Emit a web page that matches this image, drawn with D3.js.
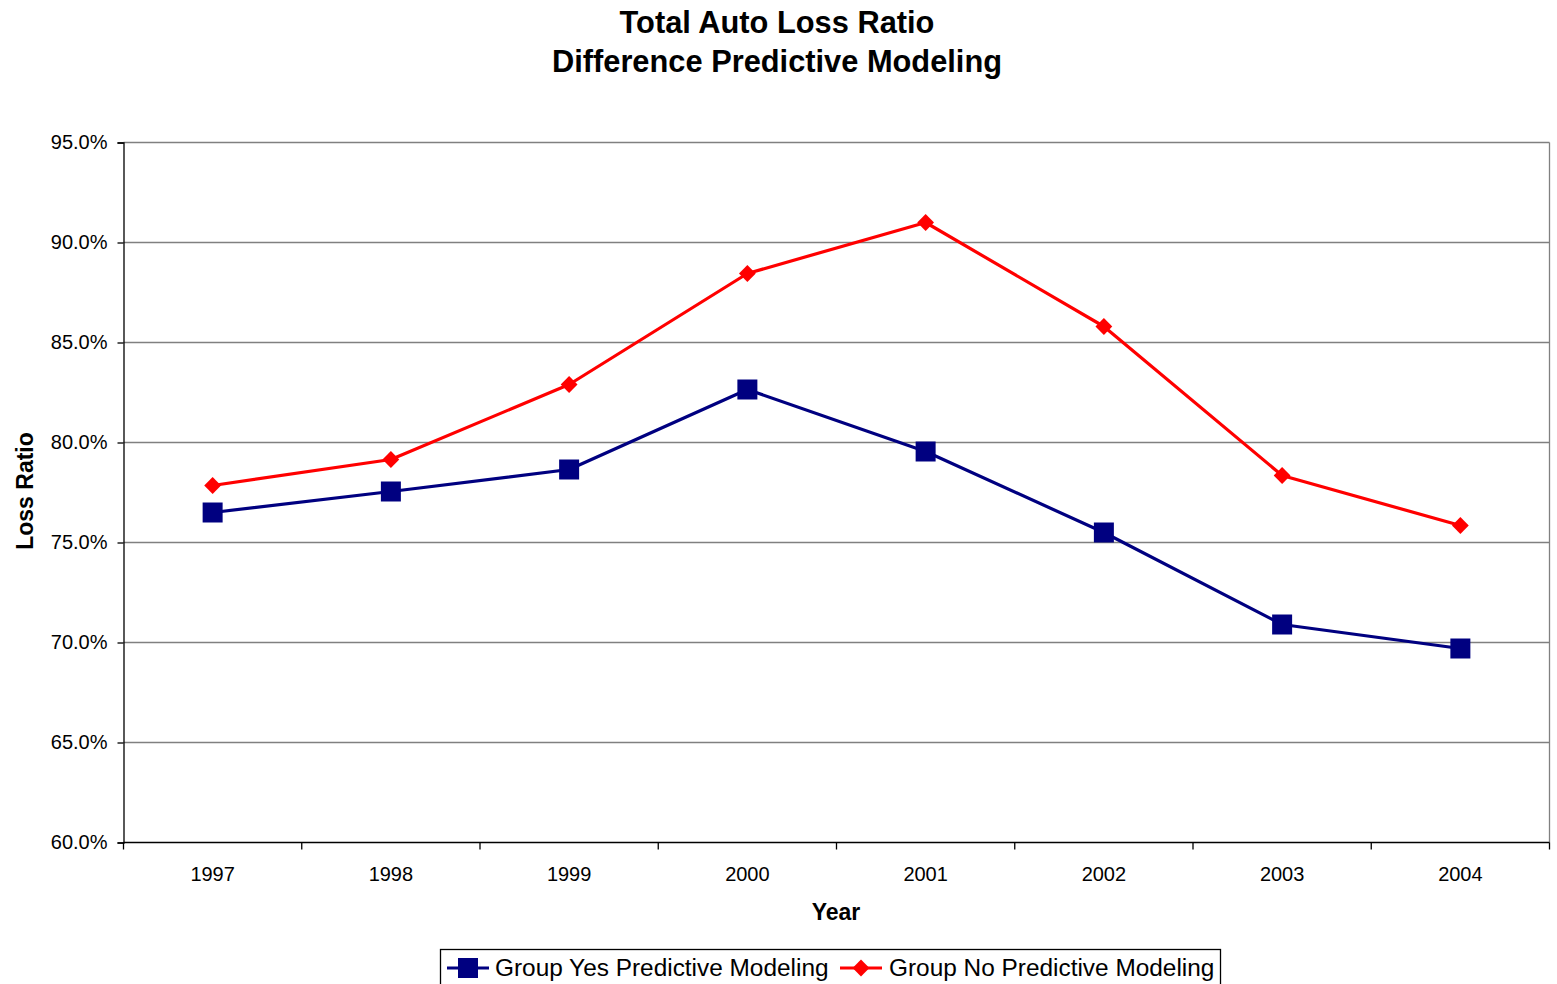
<!DOCTYPE html>
<html>
<head>
<meta charset="utf-8">
<script src="https://cdn.jsdelivr.net/npm/d3@7"></script>
<style>
  html, body { margin: 0; padding: 0; background: #fff; }
  svg { display: block; font-family: "Liberation Sans", Arial, sans-serif; }
</style>
</head>
<body>
<svg id="chart" width="1557" height="984"></svg>
<script>
// Loss ratio (%) by accident year
const years = ["1997", "1998", "1999", "2000", "2001", "2002", "2003", "2004"];
const yesModeling = [76.5, 77.55, 78.65, 82.65, 79.55, 75.5, 70.9, 69.7];
const noModeling = [77.85, 79.15, 82.9, 88.45, 91.0, 85.8, 78.35, 75.85];
const yTicks = [60, 65, 70, 75, 80, 85, 90, 95];
const seriesNames = ["Group Yes Predictive Modeling", "Group No Predictive Modeling"];
const seriesColors = ["#000080", "#ff0000"];

const svg = d3.select("#chart");
const plot = { left: 123.5, right: 1549.5, top: 142.5, bottom: 842.5 };

const x = d3.scaleBand().domain(years).range([plot.left, plot.right]);
const y = d3.scaleLinear().domain([60, 95]).range([plot.bottom, plot.top]);

// Title
const title = svg.append("text")
  .attr("x", 777).attr("text-anchor", "middle")
  .attr("font-weight", "bold").attr("font-size", 30.8).attr("fill", "#000");
title.append("tspan").attr("x", 777).attr("y", 33).text("Total Auto Loss Ratio");
title.append("tspan").attr("x", 777).attr("y", 72).text("Difference Predictive Modeling");

// Horizontal gridlines
svg.append("g").selectAll("line")
  .data(yTicks.filter(d => d > 60))
  .join("line")
  .attr("x1", plot.left).attr("x2", plot.right)
  .attr("y1", d => y(d)).attr("y2", d => y(d))
  .attr("stroke", "#808080").attr("stroke-width", 1.3);

// Right border of plot area
svg.append("line")
  .attr("x1", plot.right).attr("x2", plot.right)
  .attr("y1", plot.top).attr("y2", plot.bottom)
  .attr("stroke", "#808080").attr("stroke-width", 1.3);

// Y axis
const yAxis = svg.append("g")
  .attr("transform", `translate(${plot.left},0)`)
  .call(d3.axisLeft(y).tickValues(yTicks).tickSize(6).tickPadding(10)
    .tickFormat(d => d3.format(".1f")(d) + "%"));
yAxis.select(".domain").attr("stroke", "#000").attr("stroke-width", 1.3);
yAxis.selectAll(".tick line").attr("stroke", "#000").attr("stroke-width", 1.3);
yAxis.selectAll(".tick text").attr("font-size", 20).attr("fill", "#000")
  .attr("font-family", "Liberation Sans, Arial, sans-serif");

// X axis: ticks at category boundaries
const xAxisG = svg.append("g");
xAxisG.append("line")
  .attr("x1", plot.left).attr("x2", plot.right)
  .attr("y1", plot.bottom).attr("y2", plot.bottom)
  .attr("stroke", "#000").attr("stroke-width", 1.3);
const boundaries = years.map(d => x(d)).concat([x(years[years.length - 1]) + x.bandwidth()]);
xAxisG.selectAll("line.tk").data(boundaries).join("line").attr("class", "tk")
  .attr("x1", d => d).attr("x2", d => d)
  .attr("y1", plot.bottom).attr("y2", plot.bottom + 7)
  .attr("stroke", "#000").attr("stroke-width", 1.3);
xAxisG.selectAll("text").data(years).join("text")
  .attr("x", d => x(d) + x.bandwidth() / 2)
  .attr("y", 881)
  .attr("text-anchor", "middle")
  .attr("font-size", 20).attr("fill", "#000")
  .text(d => d);

// Axis titles
svg.append("text")
  .attr("x", 836).attr("y", 920).attr("text-anchor", "middle")
  .attr("font-weight", "bold").attr("font-size", 23).text("Year");
svg.append("text")
  .attr("transform", "translate(33,491) rotate(-90)")
  .attr("text-anchor", "middle")
  .attr("font-weight", "bold").attr("font-size", 23).text("Loss Ratio");

const cx = d => x(d) + x.bandwidth() / 2;
const line = d3.line().x(d => cx(d.year)).y(d => y(d.value));

const seriesData = [yesModeling, noModeling].map(vals =>
  years.map((yr, i) => ({ year: yr, value: vals[i] })));

// Lines
svg.append("g").selectAll("path")
  .data(seriesData)
  .join("path")
  .attr("d", line)
  .attr("fill", "none")
  .attr("stroke", (d, i) => seriesColors[i])
  .attr("stroke-width", 3.2)
  .attr("stroke-linejoin", "round");

// Markers
const squareSym = d3.symbol().type(d3.symbolSquare).size(400);
const diamondSym = d3.symbol().type(d3.symbolDiamond2).size(180);

svg.append("g").selectAll("path")
  .data(seriesData[0])
  .join("path")
  .attr("transform", d => `translate(${cx(d.year)},${y(d.value)})`)
  .attr("d", squareSym)
  .attr("fill", seriesColors[0]);

svg.append("g").selectAll("path")
  .data(seriesData[1])
  .join("path")
  .attr("transform", d => `translate(${cx(d.year)},${y(d.value)})`)
  .attr("d", diamondSym)
  .attr("fill", seriesColors[1]);

// Legend
const legend = svg.append("g");
legend.append("rect")
  .attr("x", 440.5).attr("y", 949.5).attr("width", 780).attr("height", 50)
  .attr("fill", "#fff").attr("stroke", "#000").attr("stroke-width", 1.3);

const legendItems = [
  { x0: 447, textX: 495, sym: squareSym },
  { x0: 840, textX: 889, sym: diamondSym }
];
legendItems.forEach((it, i) => {
  const ly = 968;
  legend.append("line")
    .attr("x1", it.x0).attr("x2", it.x0 + 42)
    .attr("y1", ly).attr("y2", ly)
    .attr("stroke", seriesColors[i]).attr("stroke-width", 3.2);
  legend.append("path")
    .attr("transform", `translate(${it.x0 + 21},${ly})`)
    .attr("d", it.sym)
    .attr("fill", seriesColors[i]);
  legend.append("text")
    .attr("x", it.textX).attr("y", ly + 8)
    .attr("font-size", 24.4).attr("fill", "#000")
    .text(seriesNames[i]);
});
</script>
</body>
</html>
